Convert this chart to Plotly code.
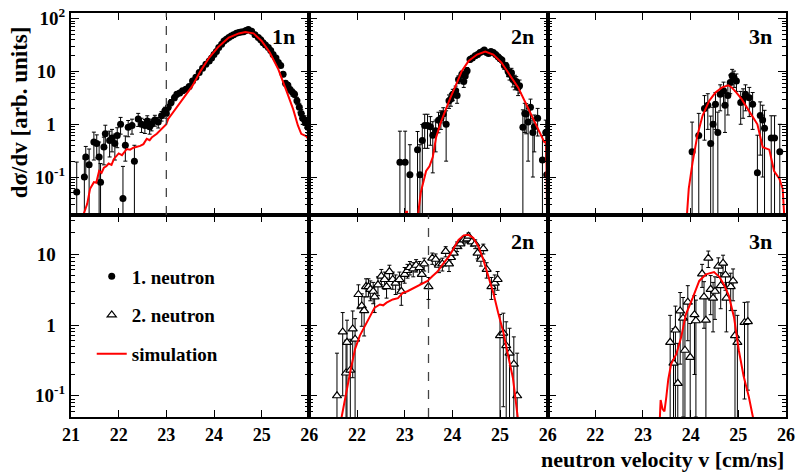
import plotly.graph_objects as go
from plotly.subplots import make_subplots

# ---------------- data ----------------
# Top row, "1n": first neutron
v_1n = [21.12, 21.28, 21.31, 21.38, 21.48, 21.54, 21.59, 21.62, 21.69, 21.72,
        21.81, 21.86, 21.92, 21.97, 22.04, 22.09, 22.14, 22.20, 22.28, 22.33,
        22.41, 22.48, 22.55, 22.60, 22.65, 22.69, 22.76, 22.83, 22.90, 22.97,
        23.00, 23.04, 23.10, 23.17, 23.22, 23.28, 23.34, 23.41, 23.48, 23.55,
        23.62, 23.69, 23.76, 23.83, 23.90, 23.95, 24.00, 24.05, 24.10, 24.16,
        24.21, 24.26, 24.31, 24.36, 24.41, 24.47, 24.52, 24.57, 24.62, 24.67,
        24.72, 24.79, 24.86, 24.93, 24.98, 25.03, 25.08, 25.14, 25.19, 25.24,
        25.30, 25.35, 25.40, 25.45, 25.50, 25.55, 25.60, 25.65, 25.69, 25.74,
        25.79, 25.83, 25.86, 25.90, 25.93, 25.97]
y_1n = [0.052, 0.10, 0.24, 0.17, 0.46, 0.43, 0.24, 0.08, 0.37, 0.66,
        0.49, 0.55, 0.43, 0.61, 1.0, 0.039, 0.40, 0.88, 0.95, 0.20,
        1.26, 1.0, 0.95, 1.15, 0.9, 1.0, 1.2, 1.1, 1.45, 1.8,
        1.6, 2.1, 2.6, 3.2, 3.7, 3.9, 4.3, 4.6, 5.2, 6.6,
        7.8, 9.6, 11.5, 13.8, 15.8, 18, 21, 24, 28.5, 33,
        38, 41, 44, 47, 50, 53, 55, 56, 57, 60,
        63, 58, 50, 44, 40, 35, 32, 28.5, 25, 21,
        18, 14.8, 13, 8.9, 6.0, 5.5, 4.5, 4.0, 3.7, 2.8,
        2.1, 1.6, 1.3, 1.2, 1.1, 0.88]
e_1n = [0.14, 0.12, 0.14, 0.17, 0.25, 0.2, 0.22, 0.1, 0.2, 0.3,
        0.25, 0.25, 0.22, 0.25, 0.35, 0.12, 0.2, 0.3, 0.3, 0.2,
        0.35, 0.3, 0.28, 0.3, 0.25, 0.25, 0.28, 0.25, 0.3, 0.3,
        0.3, 0.3, 0.35, 0.4, 0.4, 0.4, 0.45, 0.45, 0.5, 0.6,
        0.6, 0.7, 0.8, 0.9, 1.0, 1.0, 1.1, 1.2, 1.3, 1.4,
        1.5, 1.5, 1.6, 1.6, 1.7, 1.7, 1.8, 1.8, 1.8, 1.9,
        1.9, 1.9, 1.8, 1.7, 1.6, 1.5, 1.4, 1.3, 1.3, 1.2,
        1.1, 1.0, 1.0, 0.9, 0.7, 0.7, 0.6, 0.6, 0.5, 0.45,
        0.4, 0.3, 0.3, 0.25, 0.25, 0.2]
sim_v_1n = [21.15, 21.20, 21.25, 21.30, 21.34, 21.40, 21.48, 21.53, 21.59, 21.64,
            21.69, 21.74, 21.79, 21.85, 21.90, 22.00, 22.07, 22.17, 22.24, 22.31,
            22.38, 22.45, 22.52, 22.59, 22.65, 22.70, 22.80, 22.90, 22.97, 23.00,
            23.04, 23.14, 23.28, 23.38, 23.55, 23.72, 23.90, 24.10, 24.31, 24.52,
            24.66, 24.83, 25.00, 25.17, 25.35, 25.52, 25.66, 25.76, 25.83, 25.93,
            25.98, 26.00]
sim_y_1n = [0.012, 0.02, 0.018, 0.025, 0.031, 0.06, 0.08, 0.078, 0.13, 0.12,
            0.15, 0.16, 0.18, 0.17, 0.22, 0.28, 0.26, 0.34, 0.33, 0.36,
            0.37, 0.39, 0.42, 0.53, 0.50, 0.57, 0.66, 0.82, 0.95, 1.0,
            1.26, 1.68, 2.6, 3.5, 5.4, 10.3, 18.4, 30, 44, 52.8,
            56, 53, 38, 23, 11, 4.3, 1.94, 0.95, 0.66, 0.6,
            0.52, 0.01]

# Top row, "2n": first neutron
v_2n_a = [22.90, 23.01, 23.11, 23.27, 23.32, 23.37, 23.42, 23.48, 23.54, 23.59,
          23.65, 23.71, 23.76, 23.81, 23.87, 23.93, 23.97, 24.01, 24.07, 24.10,
          24.13, 24.20, 24.24, 24.27, 24.31, 24.37, 24.42, 24.48, 24.53, 24.58,
          24.63, 24.67, 24.72, 24.76, 24.81, 24.86, 24.91, 24.96, 25.00, 25.04,
          25.09, 25.13, 25.17, 25.20, 25.24, 25.27, 25.31, 25.34, 25.38, 25.41,
          25.48, 25.52, 25.55, 25.59, 25.64, 25.69, 25.72, 25.79, 25.89, 25.96,
          25.98]
y_2n_a = [0.19, 0.19, 0.11, 0.33, 0.11, 0.49, 0.95, 0.95, 0.9, 0.62,
          0.75, 1.19, 1.3, 1.56, 1.0, 2.8, 3.0, 3.7, 4.3, 3.5,
          7.1, 8.9, 6.5, 8.2, 10.4, 17, 18, 20, 21, 23,
          24, 25.7, 23, 22, 24, 23, 21, 19, 17.5, 16.5,
          13, 12.7, 10, 8.9, 9.5, 7.1, 6.5, 6.5, 5.0, 5.4,
          0.88, 1.6, 1.56, 1.1, 2.1, 0.7, 0.9, 1.3, 0.21, 0.7,
          0.11]
e_2n_a = [0.55, 0.55, 0.3, 0.4, 0.3, 0.5, 0.6, 0.6, 0.5, 0.5,
          0.45, 0.5, 0.5, 0.5, 0.8, 0.8, 0.8, 0.9, 1.0, 1.0,
          1.2, 1.3, 1.5, 1.4, 1.5, 1.8, 1.8, 2.0, 2.0, 2.0,
          2.0, 2.0, 2.0, 2.0, 2.0, 2.0, 2.0, 2.0, 2.0, 2.0,
          2.0, 2.0, 2.0, 2.0, 2.0, 2.0, 2.0, 1.5, 1.5, 1.5,
          1.0, 0.9, 0.9, 0.9, 0.9, 0.6, 0.6, 0.7, 0.4, 0.5,
          0.3]
sim_v_2n = [23.02, 23.03, 23.05, 23.06, 23.24, 23.34, 23.45, 23.52, 23.59, 23.66,
            23.76, 23.86, 23.96, 24.07, 24.20, 24.34, 24.52, 24.69, 24.86, 25.03,
            25.20, 25.38, 25.55, 25.72, 25.83, 25.93, 25.97, 25.99]
sim_y_2n = [0.005, 0.022, 0.022, 0.005, 0.01, 0.052, 0.13, 0.16, 0.24, 0.57,
            1.1, 1.94, 3.2, 5.4, 10.3, 15.8, 21, 24, 21, 14.8,
            8.9, 5.0, 2.4, 1.17, 0.75, 0.46, 0.5, 0.01]

# Top row, "3n": first neutron
v_3n_a = [24.03, 24.17, 24.29, 24.36, 24.42, 24.47, 24.52, 24.57, 24.62, 24.69,
          24.72, 24.78, 24.83, 24.87, 24.91, 24.96, 25.05, 25.10, 25.15, 25.23,
          25.30, 25.40, 25.46, 25.51, 25.55, 25.69, 25.76, 25.87]
y_3n_a = [0.3, 0.61, 2.0, 2.3, 0.43, 1.0, 2.4, 0.7, 3.7, 4.3,
          2.3, 3.5, 6.2, 8.3, 7.6, 6.6, 2.6, 3.0, 3.7, 3.2,
          2.4, 0.12, 1.46, 1.2, 0.84, 0.55, 0.55, 0.3]
e_3n_a = [0.8, 1.0, 1.5, 1.5, 1.0, 1.1, 1.6, 1.0, 1.9, 2.0,
          1.6, 2.0, 2.4, 2.7, 2.6, 2.4, 1.6, 1.7, 1.9, 1.8,
          1.6, 0.5, 1.2, 1.1, 1.0, 0.9, 0.9, 0.7]
sim_v_3n = [23.90, 23.96, 24.04, 24.14, 24.25, 24.39, 24.52, 24.66, 24.79, 24.86,
            24.96, 25.07, 25.20, 25.30, 25.40, 25.51, 25.65, 25.75, 25.86, 25.93,
            25.98]
sim_y_3n = [0.01, 0.06, 0.19, 0.61, 1.46, 2.8, 4.0, 5.0, 5.5, 5.0,
            4.0, 3.0, 1.94, 1.4, 1.0, 0.37, 0.33, 0.13, 0.093, 0.06,
            0.01]

# Bottom row, "2n": second neutron
v_2n_b = [21.58, 21.70, 21.77, 21.79, 21.86, 21.91, 21.96, 22.03, 22.10, 22.15,
          22.19, 22.24, 22.28, 22.34, 22.37, 22.44, 22.51, 22.58, 22.62, 22.68,
          22.75, 22.81, 22.89, 22.93, 23.00, 23.06, 23.11, 23.18, 23.24, 23.31,
          23.36, 23.41, 23.50, 23.58, 23.65, 23.72, 23.79, 23.86, 23.93, 23.97,
          24.03, 24.10, 24.17, 24.24, 24.31, 24.34, 24.41, 24.48, 24.53, 24.60,
          24.65, 24.72, 24.82, 24.89, 24.95, 25.00, 25.07, 25.13, 25.20, 25.29,
          25.36]
y_2n_b = [0.10, 0.80, 0.21, 0.57, 0.23, 0.88, 0.63, 2.7, 1.86, 1.6,
          3.5, 3.5, 3.2, 3.0, 2.5, 3.7, 4.9, 4.4, 3.5, 5.7,
          4.4, 3.9, 4.4, 3.0, 5.2, 5.9, 6.5, 6.2, 7.0, 6.5,
          5.2, 7.3, 3.5, 8.8, 8.5, 7.0, 7.3, 11, 7.3, 9.0,
          10.4, 12.9, 14, 16, 16.5, 18, 15, 14, 10.4, 8.5,
          12, 6.1, 3.5, 3.9, 4.4, 0.71, 0.77, 0.51, 0.40, 0.28,
          0.10]
e_2n_b = [0.3, 0.7, 0.4, 0.6, 0.4, 0.7, 0.6, 1.0, 0.9, 0.9,
          1.0, 1.0, 1.0, 1.0, 1.0, 1.1, 1.2, 1.2, 1.1, 1.3,
          1.2, 1.2, 1.2, 1.1, 1.3, 1.3, 1.4, 1.4, 1.4, 1.4,
          1.3, 1.5, 1.2, 1.6, 1.6, 1.5, 1.5, 1.8, 1.6, 1.7,
          1.8, 2.0, 2.0, 2.0, 2.0, 2.0, 2.0, 2.0, 1.8, 1.7,
          1.9, 1.5, 1.2, 1.2, 1.3, 0.7, 0.7, 0.6, 0.5, 0.4,
          0.3]
sim_v_2n_b = [21.65, 21.75, 21.86, 21.96, 22.06, 22.17, 22.27, 22.37, 22.48, 22.55,
              22.62, 22.75, 22.86, 22.96, 23.06, 23.20, 23.34, 23.48, 23.58, 23.69,
              23.79, 23.93, 24.03, 24.13, 24.24, 24.34, 24.44, 24.55, 24.65, 24.75,
              24.86, 24.96, 25.07, 25.17, 25.27, 25.38]
sim_y_2n_b = [0.04, 0.093, 0.22, 0.46, 0.71, 0.98, 1.35, 1.76, 1.95, 1.9,
              2.07, 2.3, 2.4, 2.85, 3.0, 3.35, 3.75, 4.2, 4.9, 5.7,
              7.1, 9.3, 12.2, 16, 18.5, 18.8, 17, 12.8, 8.4, 4.9,
              2.85, 1.5, 0.79, 0.37, 0.18, 0.045]

# Bottom row, "3n": second neutron
v_3n_b = [23.57, 23.64, 23.68, 23.73, 23.78, 23.84, 23.88, 23.94, 23.99, 24.08,
          24.11, 24.24, 24.28, 24.32, 24.37, 24.42, 24.47, 24.51, 24.58, 24.63,
          24.68, 24.73, 24.75, 24.84, 24.89, 24.93, 24.98, 25.13, 25.20]
y_3n_b = [0.57, 0.29, 0.85, 0.15, 1.58, 1.25, 0.44, 2.1, 0.35, 1.4,
          1.15, 5.3, 2.5, 1.17, 8.8, 3.2, 2.4, 3.0, 6.8, 3.6,
          7.5, 5.1, 2.4, 3.5, 4.2, 0.71, 0.57, 1.09, 1.12]
e_3n_b = [0.8, 0.6, 1.0, 0.4, 1.3, 1.2, 0.8, 1.5, 0.7, 1.2,
          1.1, 1.9, 1.6, 1.2, 2.3, 1.8, 1.6, 1.8, 2.1, 1.9,
          2.2, 2.0, 1.6, 1.9, 2.0, 0.9, 0.8, 1.0, 1.0]
sim_v_3n_b = [23.34, 23.37, 23.41, 23.45, 23.49, 23.53, 23.59, 23.70, 23.80, 23.90,
              24.04, 24.18, 24.32, 24.49, 24.60, 24.70, 24.80, 24.91, 25.01, 25.11,
              25.22, 25.32]
sim_y_3n_b = [0.03, 0.087, 0.065, 0.06, 0.097, 0.17, 0.28, 0.39, 0.67, 1.42,
              2.4, 4.2, 5.2, 5.6, 4.8, 3.7, 2.6, 1.28, 0.44, 0.19,
              0.097, 0.045]

# axes / labels
x_range = [21, 26]
x_ticks_first = [21, 22, 23, 24, 25, 26]
x_ticks_other = [22, 23, 24, 25, 26]
y_range_top = [-1.72, 2.11]
y_range_bot = [-1.30, 1.555]
y_ticks_top = [0.1, 1, 10, 100]
y_labels_top = ["10<sup>-1</sup>", "1\u00a0\u00a0", "10\u00a0\u00a0", "10<sup>2</sup>"]
y_ticks_bot = [0.1, 1, 10]
y_labels_bot = ["10<sup>-1</sup>", "1\u00a0\u00a0", "10\u00a0\u00a0"]
panel_labels = {(1, 1): "1n", (1, 2): "2n", (1, 3): "3n", (2, 2): "2n", (2, 3): "3n"}
cut_1n = 23.0
cut_2n = 23.5

FONT = "Liberation Serif"

fig = make_subplots(rows=2, cols=3, horizontal_spacing=0, vertical_spacing=0)


def add_data(v, y, e, row, col, first, name, show):
    if first:
        marker = dict(symbol="circle", size=7, color="black")
    else:
        marker = dict(symbol="triangle-up", size=8, color="white",
                      line=dict(color="black", width=1.2))
    fig.add_trace(go.Scatter(
        x=v, y=y, mode="markers", marker=marker, name=name,
        error_y=dict(type="data", array=e, symmetric=True, color="black",
                     thickness=1, width=2),
        legendgroup=name, showlegend=show, legendrank=1 if first else 2,
    ), row=row, col=col)


def add_sim(v, y, row, col, show):
    fig.add_trace(go.Scatter(
        x=v, y=y, mode="lines", line=dict(color="#ff0000", width=2),
        name="simulation", legendgroup="simulation", showlegend=show,
        legendrank=3,
    ), row=row, col=col)


add_data(v_1n, y_1n, e_1n, 1, 1, True, "1. neutron", True)
add_data(v_2n_a, y_2n_a, e_2n_a, 1, 2, True, "1. neutron", False)
add_data(v_3n_a, y_3n_a, e_3n_a, 1, 3, True, "1. neutron", False)
add_data(v_2n_b, y_2n_b, e_2n_b, 2, 2, False, "2. neutron", True)
add_data(v_3n_b, y_3n_b, e_3n_b, 2, 3, False, "2. neutron", False)
add_sim(sim_v_1n, sim_y_1n, 1, 1, True)
add_sim(sim_v_2n, sim_y_2n, 1, 2, False)
add_sim(sim_v_3n, sim_y_3n, 1, 3, False)
add_sim(sim_v_2n_b, sim_y_2n_b, 2, 2, False)
add_sim(sim_v_3n_b, sim_y_3n_b, 2, 3, False)
# empty trace so that the legend panel (bottom-left) gets its axes drawn
fig.add_trace(go.Scatter(x=[], y=[], mode="markers", showlegend=False,
                         hoverinfo="skip"), row=2, col=1)

for row in (1, 2):
    for col in (1, 2, 3):
        fig.update_xaxes(
            range=x_range, showline=True, linewidth=2, linecolor="black",
            mirror="ticks", ticks="inside", ticklen=7, tickwidth=1.2,
            tickcolor="black", showgrid=False, zeroline=False,
            tickmode="array",
            tickvals=x_ticks_first if col == 1 else x_ticks_other,
            showticklabels=(row == 2),
            tickfont=dict(family=FONT, size=18, color="black", weight="bold"),
            row=row, col=col)
        fig.update_yaxes(
            type="log", range=y_range_top if row == 1 else y_range_bot,
            showline=True, linewidth=2, linecolor="black",
            mirror="ticks", ticks="inside", ticklen=8, tickwidth=1.2,
            tickcolor="black", showgrid=False, zeroline=False,
            tickmode="array",
            tickvals=y_ticks_top if row == 1 else y_ticks_bot,
            ticktext=y_labels_top if row == 1 else y_labels_bot,
            showticklabels=(col == 1),
            tickfont=dict(family=FONT, size=19, color="black", weight="bold"),
            minor=dict(ticks="inside", ticklen=4, tickwidth=1, tickcolor="black",
                       dtick="D1", showgrid=False),
            row=row, col=col)

# panel labels
for (row, col), txt in panel_labels.items():
    idx = (row - 1) * 3 + col
    sfx = "" if idx == 1 else str(idx)
    fig.add_annotation(
        text=txt, xref=f"x{sfx} domain", yref=f"y{sfx} domain",
        x=1, y=1, xanchor="right", yanchor="top", xshift=-12,
        yshift=-9 if row == 1 else -12, showarrow=False,
        font=dict(family=FONT, size=22, color="black", weight="bold"))

# dashed cut lines
fig.add_shape(type="line", xref="x", yref="y domain", x0=cut_1n, x1=cut_1n,
              y0=0, y1=1, line=dict(color="#444444", width=1.3, dash="dash"))
fig.add_shape(type="line", xref="x5", yref="y5 domain", x0=cut_2n, x1=cut_2n,
              y0=0, y1=1, line=dict(color="#444444", width=1.3, dash="dash"))

# axis titles
fig.add_annotation(text="d\u03c3/dv [arb. units]", xref="paper", yref="paper",
                   x=-0.071, y=0.755, xanchor="center", yanchor="middle",
                   textangle=-90, showarrow=False,
                   font=dict(family=FONT, size=23, color="black", weight="bold"))
fig.add_annotation(text="neutron velocity v [cm/ns]", xref="paper", yref="paper",
                   x=1.0, y=-0.106, xanchor="right", yanchor="middle",
                   showarrow=False,
                   font=dict(family=FONT, size=22, color="black", weight="bold"))

fig.update_layout(
    width=801, height=474,
    margin=dict(l=71, r=6, t=10, b=57),
    paper_bgcolor="white", plot_bgcolor="white",
    font=dict(family=FONT, size=16, color="black", weight="bold"),
    showlegend=True,
    legend=dict(x=0.029, y=0.395, xanchor="left", yanchor="top",
                bgcolor="rgba(0,0,0,0)", traceorder="grouped",
                tracegroupgap=11,
                font=dict(family=FONT, size=19, color="black", weight="bold")),
)

fig.write_html("out.html")
